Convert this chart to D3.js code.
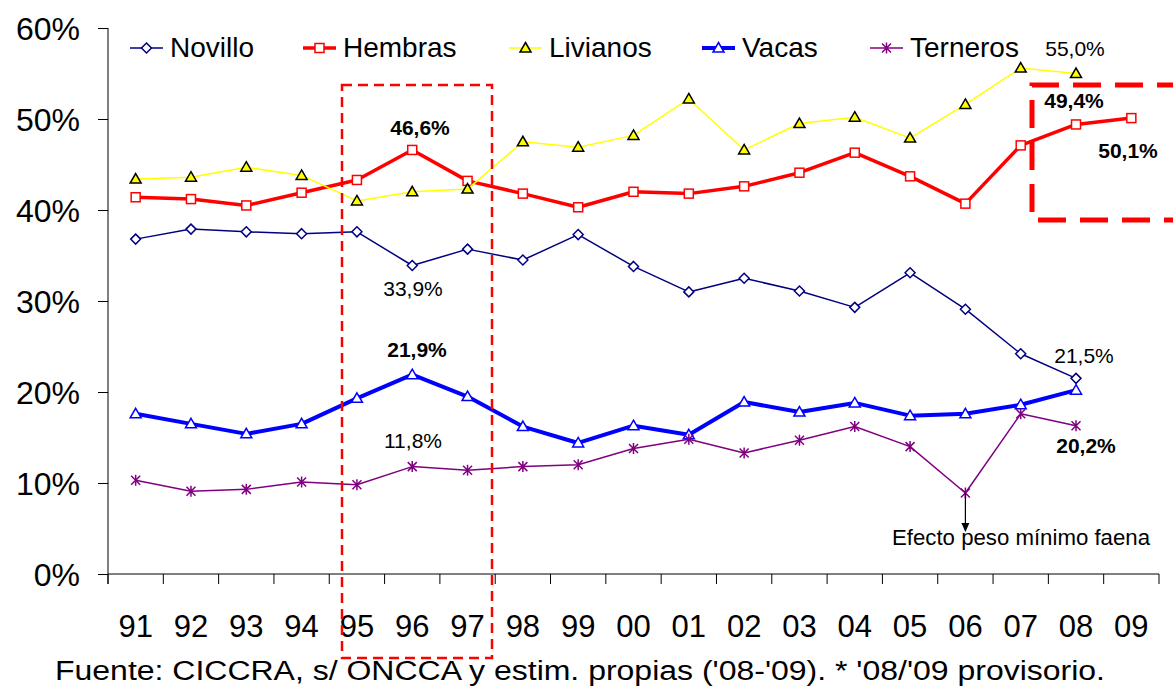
<!DOCTYPE html>
<html>
<head>
<meta charset="utf-8">
<script src="https://cdn.jsdelivr.net/npm/d3@7/dist/d3.min.js"></script>
<style>
  html, body { margin: 0; padding: 0; background: #fff; }
  svg { display: block; font-family: "Liberation Sans", Arial, sans-serif; }
</style>
</head>
<body>
<svg id="chart" width="1173" height="686"></svg>
<script>
const years = ["91","92","93","94","95","96","97","98","99","00","01","02","03","04","05","06","07","08","09"];
const novillo  = [36.8, 37.9, 37.6, 37.4, 37.6, 33.9, 35.7, 34.5, 37.3, 33.8, 31.0, 32.5, 31.1, 29.3, 33.1, 29.1, 24.2, 21.5, null];
const hembras  = [41.4, 41.2, 40.5, 41.9, 43.3, 46.6, 43.2, 41.8, 40.3, 42.0, 41.8, 42.6, 44.1, 46.3, 43.7, 40.7, 47.1, 49.4, 50.1];
const livianos = [43.4, 43.6, 44.7, 43.8, 41.0, 42.0, 42.3, 47.5, 46.9, 48.2, 52.2, 46.6, 49.5, 50.2, 47.9, 51.6, 55.6, 55.0, null];
const vacas    = [17.6, 16.5, 15.4, 16.5, 19.3, 21.9, 19.5, 16.2, 14.4, 16.3, 15.3, 18.9, 17.8, 18.8, 17.4, 17.6, 18.6, 20.2, null];
const terneros = [10.3, 9.1, 9.3, 10.1, 9.8, 11.8, 11.4, 11.8, 12.0, 13.8, 14.8, 13.3, 14.7, 16.2, 14.0, 8.9, 17.6, 16.3, null];
const yTicks = [0, 10, 20, 30, 40, 50, 60];
const seriesNames = ["Novillo", "Hembras", "Livianos", "Vacas", "Terneros"];
const footnote = "Fuente: CICCRA, s/ ONCCA y estim. propias ('08-'09). * '08/'09 provisorio.";
const noteText = "Efecto peso mínimo faena";

const svg = d3.select("#chart");
const x = d3.scaleBand().domain(years).range([108, 1159]);
const y = d3.scaleLinear().domain([0, 60]).range([574, 28]);
const cx = d => x(d) + x.bandwidth() / 2;

// Axes
const yAxisG = svg.append("g").attr("transform", "translate(108,0)")
  .call(d3.axisLeft(y).tickValues(yTicks).tickSize(10).tickPadding(18).tickFormat(d => d + "%"));
yAxisG.select(".domain").attr("d", "M0," + y(60) + "V" + (y(0) + 10));
yAxisG.selectAll("text").attr("font-size", 32).attr("font-family", "Liberation Sans, Arial, sans-serif").attr("fill", "#000").attr("dy", "0.36em");
yAxisG.selectAll("line, path").attr("stroke", "#000");

const xAxisG = svg.append("g").attr("transform", "translate(0,574)")
  .call(d3.axisBottom(x).tickSize(0).tickPadding(0).tickSizeOuter(0));
xAxisG.select(".domain").attr("d", "M108,0H1159").attr("stroke", "#000");
xAxisG.selectAll(".tick text").attr("font-size", 31).attr("font-family", "Liberation Sans, Arial, sans-serif")
  .attr("fill", "#000").attr("y", 63).attr("dy", 0);
const bounds = years.map(d => x(d)).concat([x(years[years.length - 1]) + x.bandwidth()]);
xAxisG.selectAll("line.bt").data(bounds).enter().append("line")
  .attr("class", "bt").attr("x1", d => d).attr("x2", d => d).attr("y1", 0).attr("y2", 10).attr("stroke", "#000");

// Series
const defs = [
  {name: seriesNames[0], data: novillo, color: "#000080", width: 1.5, marker: "diamond", fill: "#fff", mstroke: "#000080"},
  {name: seriesNames[1], data: hembras, color: "#FF0000", width: 3.5, marker: "square", fill: "#fff", mstroke: "#FF0000"},
  {name: seriesNames[2], data: livianos, color: "#FFFF00", width: 1.5, marker: "triangle", fill: "#FFFF00", mstroke: "#000"},
  {name: seriesNames[3], data: vacas, color: "#0000FF", width: 4, marker: "triangle", fill: "#fff", mstroke: "#0000FF"},
  {name: seriesNames[4], data: terneros, color: "#800080", width: 1.5, marker: "star", fill: "none", mstroke: "#800080"}
];

function drawMarker(g, type, px, py, fill, stroke) {
  if (type === "diamond") {
    g.append("path").attr("d", `M${px},${py-5}L${px+5},${py}L${px},${py+5}L${px-5},${py}Z`)
      .attr("fill", fill).attr("stroke", stroke).attr("stroke-width", 1.5);
  } else if (type === "square") {
    g.append("rect").attr("x", px - 4.5).attr("y", py - 4.5).attr("width", 9).attr("height", 9)
      .attr("fill", fill).attr("stroke", stroke).attr("stroke-width", 1.5);
  } else if (type === "triangle") {
    g.append("path").attr("d", `M${px},${py-5.5}L${px+5.5},${py+4}L${px-5.5},${py+4}Z`)
      .attr("fill", fill).attr("stroke", stroke).attr("stroke-width", 1.5);
  } else if (type === "star") {
    g.append("path").attr("d", `M${px-4.5},${py-4.5}L${px+4.5},${py+4.5}M${px+4.5},${py-4.5}L${px-4.5},${py+4.5}M${px},${py-5.5}L${px},${py+5.5}`)
      .attr("stroke", stroke).attr("stroke-width", 1.5).attr("fill", "none");
  }
}

defs.forEach(s => {
  const pts = years.map((yr, i) => ({yr, v: s.data[i]})).filter(p => p.v != null);
  const line = d3.line().x(p => cx(p.yr)).y(p => y(p.v));
  svg.append("path").datum(pts).attr("d", line).attr("fill", "none")
    .attr("stroke", s.color).attr("stroke-width", s.width).attr("stroke-linejoin", "round");
  const g = svg.append("g");
  pts.forEach(p => drawMarker(g, s.marker, cx(p.yr), y(p.v), s.fill, s.mstroke));
});

// Legend
const legendX = [130, 303, 509, 702, 870];
defs.forEach((s, i) => {
  const lx = legendX[i];
  const g = svg.append("g");
  g.append("line").attr("x1", lx).attr("x2", lx + 33).attr("y1", 48).attr("y2", 48)
    .attr("stroke", s.color).attr("stroke-width", s.width);
  drawMarker(g, s.marker, lx + 16.5, 48, s.fill, s.mstroke);
  g.append("text").attr("x", lx + 40).attr("y", 57).attr("font-size", 28).attr("fill", "#000").text(s.name);
});

// Annotations
const ann = [
  {t: "46,6%", x: 420, y: 135, b: true},
  {t: "33,9%", x: 413, y: 296, b: false},
  {t: "21,9%", x: 417, y: 357, b: true},
  {t: "11,8%", x: 413, y: 448, b: false},
  {t: "55,0%", x: 1075, y: 56, b: false},
  {t: "49,4%", x: 1074, y: 108, b: true},
  {t: "50,1%", x: 1128, y: 158, b: true},
  {t: "21,5%", x: 1084, y: 363, b: false},
  {t: "20,2%", x: 1086, y: 453, b: true}
];
ann.forEach(a => {
  svg.append("text").attr("x", a.x).attr("y", a.y).attr("text-anchor", "middle")
    .attr("font-size", 21).attr("font-weight", a.b ? "bold" : "normal").attr("fill", "#000").text(a.t);
});

// Arrow annotation at 06 Terneros
const ax = cx("06");
const ay = y(terneros[15]);
svg.append("line").attr("x1", ax).attr("x2", ax).attr("y1", ay).attr("y2", 524).attr("stroke", "#000").attr("stroke-width", 1.2);
svg.append("path").attr("d", `M${ax-4},523L${ax+4},523L${ax},532Z`).attr("fill", "#000");
svg.append("text").attr("x", 892).attr("y", 545).attr("font-size", 21.5)
  .attr("textLength", 258).attr("lengthAdjust", "spacingAndGlyphs").attr("fill", "#000").text(noteText);

// Dashed boxes
svg.append("rect").attr("x", 342).attr("y", 85).attr("width", 150).attr("height", 573)
  .attr("fill", "none").attr("stroke", "#FF0000").attr("stroke-width", 2.5).attr("stroke-dasharray", "10,6");
svg.append("path").attr("d", "M1185,85H1032V220H1185")
  .attr("fill", "none").attr("stroke", "#FF0000").attr("stroke-width", 5).attr("stroke-dasharray", "28,14");

// Footnote
svg.append("text").attr("x", 55).attr("y", 680).attr("font-size", 27)
  .attr("textLength", 1050).attr("lengthAdjust", "spacingAndGlyphs").attr("fill", "#000").text(footnote);
</script>
</body>
</html>
